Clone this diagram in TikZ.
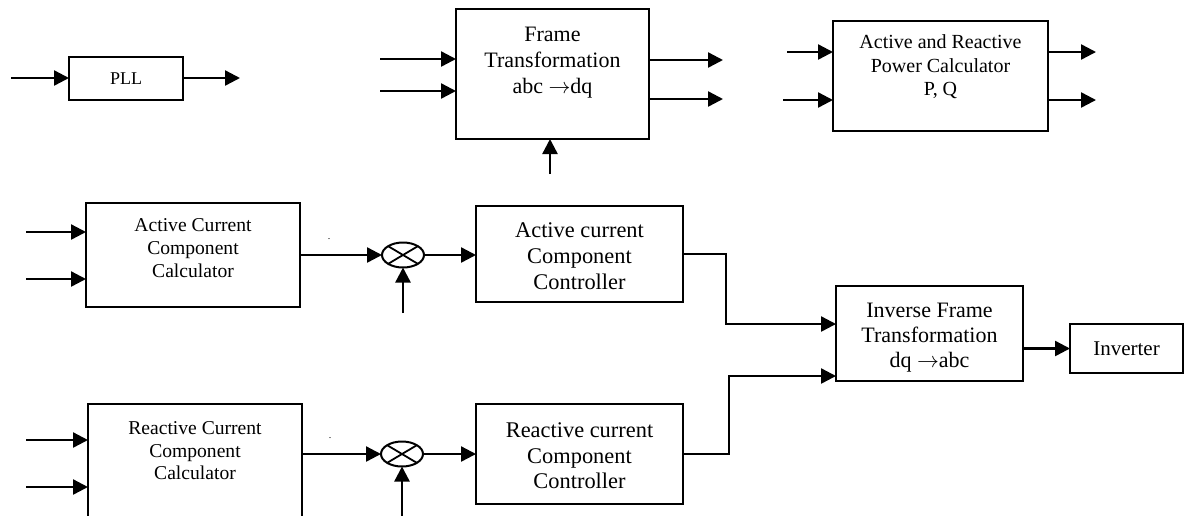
\documentclass[tikz,border=0pt]{standalone}
\usepackage{fontspec}
\setmainfont{Liberation Serif}
\usetikzlibrary{arrows.meta,shapes.geometric,calc}
\begin{document}
\begin{tikzpicture}[x=0.5pt,y=-0.5pt,
  blk/.style={draw,line width=1pt,rectangle,inner sep=0pt,outer sep=0pt,anchor=north west},
  sig/.style={line width=1.2pt,-{Triangle[length=7.5pt,width=7.5pt]}},
  lbl/.style={align=center,inner sep=0pt,outer sep=0pt,anchor=north},
  mix/.style={draw,line width=1pt,ellipse,minimum width=21pt,minimum height=12.5pt,inner sep=0pt,outer sep=0pt},
  crs/.style={line width=0.9pt}]
\useasboundingbox (0,0) rectangle (1186,515);
\clip (0,0) rectangle (1186,515);

% ---------- blocks ----------
\node[blk,minimum width=57pt,minimum height=21.5pt,font=\fontsize{9}{11}\selectfont,anchor=north west] (pll) at (69,57) {PLL};
\node[blk,minimum width=96.5pt,minimum height=65pt] (ft) at (456,9) {};
\node[blk,minimum width=107.5pt,minimum height=55pt] (pq) at (833,21) {};
\node[blk,minimum width=107pt,minimum height=52pt] (accc) at (86,203) {};
\node[blk,minimum width=103.5pt,minimum height=48pt] (actrl) at (476,206) {};
\node[blk,minimum width=93.5pt,minimum height=47.5pt] (ift) at (836,286) {};
\node[blk,minimum width=56.5pt,minimum height=24.5pt,font=\fontsize{10.5}{12}\selectfont] (inv) at (1070,324) {Inverter};
\node[blk,minimum width=107pt,minimum height=63pt] (rccc) at (88,404) {};
\node[blk,minimum width=103.5pt,minimum height=50pt] (rctrl) at (476,404) {};

% ---------- labels ----------
\node[lbl,font=\fontsize{11}{13}\selectfont] (ft-l) at ([yshift=-9pt]ft.north) {Frame\\Transformation\\abc \ensuremath{\rightarrow}dq};
\node[lbl,font=\fontsize{10}{11.75}\selectfont] (pq-l) at ([yshift=-7pt]pq.north) {Active and Reactive\\Power Calculator\\P, Q};
\node[lbl,font=\fontsize{9.8}{11.5}\selectfont] (accc-l) at ([yshift=-8pt]accc.north) {Active Current\\Component\\Calculator};
\node[lbl,font=\fontsize{11.2}{13}\selectfont] (actrl-l) at ([yshift=-8.5pt]actrl.north) {Active current\\Component\\Controller};
\node[lbl,font=\fontsize{11}{12.5}\selectfont] (ift-l) at ([yshift=-8.5pt]ift.north) {Inverse Frame\\Transformation\\dq \ensuremath{\rightarrow}abc};
\node[lbl,font=\fontsize{9.8}{11.25}\selectfont] (rccc-l) at ([yshift=-9pt]rccc.north) {Reactive Current\\Component\\Calculator};
\node[lbl,font=\fontsize{11.2}{12.75}\selectfont] (rctrl-l) at ([yshift=-9.5pt]rctrl.north) {Reactive current\\Component\\Controller};

% stray dots
\node[inner sep=0pt,anchor=base,font=\fontsize{5}{6}\selectfont] (dot1) at (329,239) {.};
\node[inner sep=0pt,anchor=base,font=\fontsize{5}{6}\selectfont] (dot2) at (330,438) {.};

% ---------- mixers ----------
\node[mix] (c1) at (403,255) {};
\node[mix] (c2) at (402,454) {};
\draw[crs] (c1.north west) -- (c1.south east) (c1.north east) -- (c1.south west);
\draw[crs] (c2.north west) -- (c2.south east) (c2.north east) -- (c2.south west);

% ---------- free ends ----------
\coordinate (pll-i) at (11,78);
\coordinate (pll-o) at (240,78);
\coordinate (ft-i1) at (380,59);
\coordinate (ft-i2) at (380,91);
\coordinate (ft-o1) at (723,60);
\coordinate (ft-o2) at (723,99);
\coordinate (ft-b) at (550,174);
\coordinate (pq-i1) at (787,52);
\coordinate (pq-i2) at (783,100);
\coordinate (pq-o1) at (1096,52);
\coordinate (pq-o2) at (1096,100);
\coordinate (accc-i1) at (26,232);
\coordinate (accc-i2) at (26,279);
\coordinate (rccc-i1) at (26,440);
\coordinate (rccc-i2) at (26,487);
\coordinate (c1-b) at (403,313);
\coordinate (c2-b) at (402,520);
\coordinate (j1) at (726,324);
\coordinate (j2) at (729,376);

% ---------- connectors ----------
\draw[sig] (pll-i) -- (pll-i -| pll.west);
\draw[sig] (pll-o -| pll.east) -- (pll-o);
\draw[sig] (ft-i1) -- (ft-i1 -| ft.west);
\draw[sig] (ft-i2) -- (ft-i2 -| ft.west);
\draw[sig] (ft-o1 -| ft.east) -- (ft-o1);
\draw[sig] (ft-o2 -| ft.east) -- (ft-o2);
\draw[sig] (ft-b) -- (ft-b |- ft.south);
\draw[sig] (pq-i1) -- (pq-i1 -| pq.west);
\draw[sig] (pq-i2) -- (pq-i2 -| pq.west);
\draw[sig] (pq-o1 -| pq.east) -- (pq-o1);
\draw[sig] (pq-o2 -| pq.east) -- (pq-o2);
\draw[sig] (accc-i1) -- (accc-i1 -| accc.west);
\draw[sig] (accc-i2) -- (accc-i2 -| accc.west);
\draw[sig] (c1.west -| accc.east) -- (c1.west);
\draw[sig] (c1-b) -- (c1.south);
\draw[sig] (c1.east) -- (c1.east -| actrl.west);
\draw[sig] (actrl.east) -| (j1) -- (j1 -| ift.west);
\draw[sig] (rccc-i1) -- (rccc-i1 -| rccc.west);
\draw[sig] (rccc-i2) -- (rccc-i2 -| rccc.west);
\draw[sig] (c2.west -| rccc.east) -- (c2.west);
\draw[sig] (c2-b) -- (c2.south);
\draw[sig] (c2.east) -- (c2.east -| rctrl.west);
\draw[sig] (rctrl.east) -| (j2) -- (j2 -| ift.west);
\draw[sig] (inv.west -| ift.east) -- (inv.west);
\end{tikzpicture}
\end{document}
